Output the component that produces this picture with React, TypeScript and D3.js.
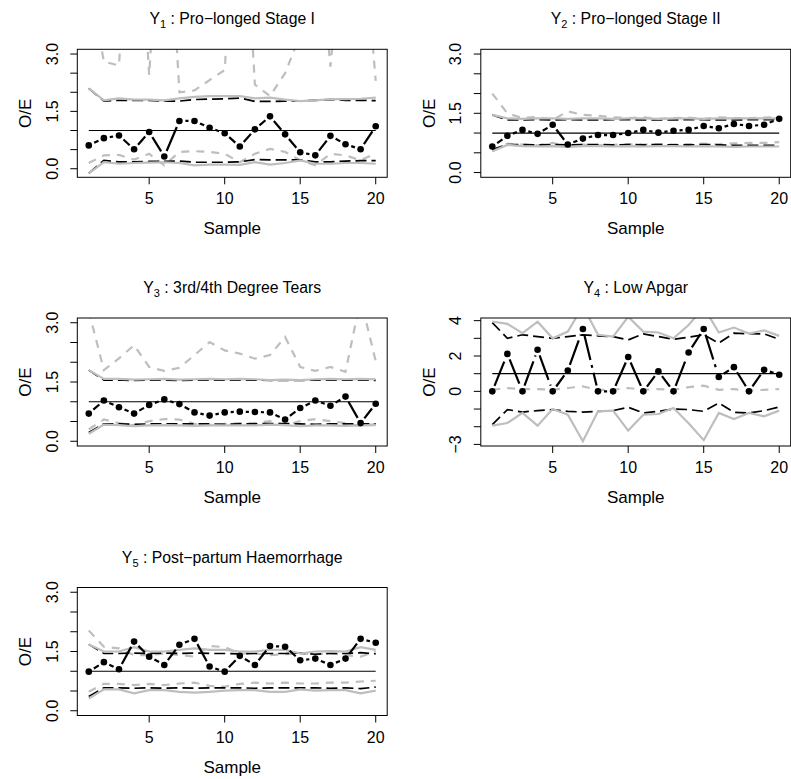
import React from "react";
import * as d3 from "d3";

const samples = [1, 2, 3, 4, 5, 6, 7, 8, 9, 10, 11, 12, 13, 14, 15, 16, 17, 18, 19, 20];
const xTicks = [5, 10, 15, 20];

// Panel 1 : Pro-longed Stage I
const obs1 = [0.61, 0.8, 0.87, 0.51, 0.96, 0.32, 1.25, 1.25, 1.07, 0.93, 0.58, 1.03, 1.37, 0.9, 0.43, 0.35, 0.86, 0.64, 0.51, 1.11];
const blackUp1 = [2.1, 1.77, 1.79, 1.79, 1.79, 1.77, 1.77, 1.81, 1.82, 1.83, 1.85, 1.76, 1.76, 1.77, 1.77, 1.79, 1.81, 1.79, 1.79, 1.78];
const blackLo1 = [-0.12, 0.22, 0.18, 0.18, 0.19, 0.19, 0.2, 0.17, 0.17, 0.17, 0.18, 0.24, 0.23, 0.23, 0.23, 0.18, 0.18, 0.2, 0.21, 0.21];
const greyUp1 = [2.1, 1.79, 1.84, 1.81, 1.81, 1.79, 1.84, 1.88, 1.9, 1.9, 1.9, 1.84, 1.86, 1.81, 1.77, 1.79, 1.82, 1.82, 1.83, 1.86];
const greyLo1 = [-0.12, 0.17, 0.13, 0.15, 0.16, 0.17, 0.15, 0.09, 0.11, 0.11, 0.1, 0.17, 0.11, 0.15, 0.22, 0.13, 0.13, 0.15, 0.15, 0.13];
const greyDashUp1 = [5, 2.8, 2.7, 9, 2.45, 9, 2.0, 2.05, 2.32, 2.58, 9, 2.2, 1.9, 2.5, 3.5, 7, 2.67, 7, 7, 2.3];
const greyDashLo1 = [0.15, 0.35, 0.36, 0.24, 0.39, 0.09, 0.44, 0.46, 0.44, 0.39, 0.17, 0.39, 0.52, 0.44, 0.22, 0.09, 0.39, 0.35, 0.22, 0.4];

// Panel 2 : Pro-longed Stage II
const obs2 = [0.66, 0.93, 1.08, 0.98, 1.21, 0.71, 0.86, 0.95, 0.95, 1.0, 1.08, 1.01, 1.06, 1.08, 1.18, 1.12, 1.23, 1.18, 1.21, 1.36];
const blackUp2 = [1.46, 1.33, 1.33, 1.34, 1.33, 1.34, 1.33, 1.33, 1.34, 1.34, 1.33, 1.33, 1.33, 1.34, 1.34, 1.33, 1.33, 1.34, 1.34, 1.34];
const blackLo2 = [0.58, 0.71, 0.71, 0.7, 0.71, 0.7, 0.71, 0.71, 0.7, 0.71, 0.7, 0.71, 0.7, 0.7, 0.71, 0.7, 0.69, 0.69, 0.69, 0.69];
const greyUp2 = [1.46, 1.37, 1.36, 1.37, 1.37, 1.36, 1.37, 1.37, 1.36, 1.37, 1.37, 1.36, 1.37, 1.37, 1.36, 1.37, 1.37, 1.37, 1.37, 1.37];
const greyLo2 = [0.54, 0.7, 0.67, 0.66, 0.67, 0.65, 0.67, 0.67, 0.66, 0.67, 0.66, 0.67, 0.67, 0.66, 0.67, 0.66, 0.65, 0.66, 0.66, 0.66];
const greyDashUp2 = [2.0, 1.5, 1.38, 1.41, 1.33, 1.55, 1.46, 1.44, 1.4, 1.38, 1.4, 1.36, 1.38, 1.39, 1.36, 1.4, 1.38, 1.38, 1.39, 1.41];
const greyDashLo2 = [0.54, 0.73, 0.71, 0.69, 0.75, 0.65, 0.71, 0.69, 0.7, 0.72, 0.71, 0.72, 0.71, 0.72, 0.73, 0.72, 0.74, 0.75, 0.75, 0.77];

// Panel 3 : 3rd/4th Degree Tears
const obs3 = [0.7, 1.03, 0.86, 0.7, 0.92, 1.06, 0.94, 0.73, 0.65, 0.73, 0.75, 0.74, 0.73, 0.55, 0.84, 1.03, 0.9, 1.13, 0.46, 0.95];
const blackUp3 = [1.8, 1.55, 1.55, 1.54, 1.55, 1.55, 1.54, 1.55, 1.55, 1.55, 1.55, 1.55, 1.54, 1.54, 1.54, 1.55, 1.55, 1.55, 1.55, 1.54];
const blackLo3 = [0.22, 0.44, 0.44, 0.43, 0.44, 0.44, 0.44, 0.44, 0.44, 0.43, 0.44, 0.44, 0.45, 0.45, 0.44, 0.43, 0.44, 0.44, 0.44, 0.44];
const greyUp3 = [1.8, 1.58, 1.58, 1.56, 1.57, 1.58, 1.56, 1.57, 1.58, 1.57, 1.58, 1.57, 1.55, 1.56, 1.55, 1.57, 1.58, 1.57, 1.58, 1.57];
const greyLo3 = [0.19, 0.42, 0.41, 0.38, 0.4, 0.41, 0.4, 0.39, 0.4, 0.4, 0.4, 0.4, 0.42, 0.41, 0.38, 0.4, 0.4, 0.39, 0.4, 0.41];
const greyDashUp3 = [3.3, 1.8, 2.1, 2.43, 1.88, 1.78, 1.86, 2.18, 2.51, 2.3, 2.22, 2.09, 2.18, 2.64, 1.88, 1.78, 1.88, 1.76, 3.6, 2.03];
const greyDashLo3 = [0.3, 0.55, 0.46, 0.4, 0.51, 0.56, 0.55, 0.44, 0.41, 0.44, 0.46, 0.46, 0.51, 0.41, 0.51, 0.56, 0.51, 0.46, 0.38, 0.44];

// Panel 4 : Low Apgar
const obs4 = [0, 2.12, 0, 2.35, 0, 1.18, 3.53, 0, 0, 1.94, 0, 1.13, 0, 2.2, 3.53, 0.81, 1.37, 0, 1.22, 0.94];
const blackUp4 = [3.89, 3.0, 3.2, 3.1, 3.0, 3.1, 3.2, 3.14, 3.1, 2.91, 3.25, 3.1, 2.95, 3.06, 3.2, 2.73, 3.29, 3.26, 3.25, 2.95];
const blackLo4 = [-1.88, -1.03, -1.17, -1.09, -1.03, -1.13, -1.17, -1.13, -1.09, -0.9, -1.22, -1.13, -1.0, -1.03, -1.13, -0.66, -1.18, -1.22, -1.09, -0.88];
const greyUp4 = [3.95, 3.82, 3.29, 3.94, 3.0, 3.38, 4.82, 3.2, 3.1, 4.22, 3.38, 3.33, 3.0, 3.75, 4.76, 3.33, 3.61, 3.27, 3.45, 3.14];
const greyLo4 = [-1.94, -1.79, -1.22, -1.94, -1.0, -1.32, -2.82, -1.13, -1.09, -2.22, -1.32, -1.28, -0.94, -1.8, -2.76, -1.22, -1.56, -1.22, -1.41, -1.09];
const greyDashLo4 = [0.09, 0.19, 0.13, 0.13, 0.09, 0.19, 0.28, 0.09, 0.09, 0.19, 0.09, 0.13, 0.09, 0.24, 0.32, 0.09, 0.13, 0.04, 0.09, 0.13];

// Panel 5 : Post-partum Haemorrhage
const obs5 = [0.99, 1.23, 1.05, 1.75, 1.37, 1.16, 1.67, 1.82, 1.12, 0.99, 1.39, 1.16, 1.64, 1.62, 1.28, 1.32, 1.16, 1.32, 1.82, 1.72];
const blackUp5 = [1.68, 1.45, 1.45, 1.46, 1.45, 1.46, 1.45, 1.46, 1.45, 1.45, 1.44, 1.45, 1.45, 1.45, 1.46, 1.43, 1.45, 1.45, 1.47, 1.44];
const blackLo5 = [0.36, 0.58, 0.58, 0.57, 0.58, 0.57, 0.58, 0.57, 0.58, 0.58, 0.58, 0.57, 0.58, 0.58, 0.58, 0.58, 0.57, 0.58, 0.56, 0.6];
const greyUp5 = [1.68, 1.5, 1.5, 1.61, 1.5, 1.5, 1.54, 1.58, 1.54, 1.54, 1.5, 1.5, 1.54, 1.54, 1.45, 1.5, 1.51, 1.5, 1.61, 1.54];
const greyLo5 = [0.31, 0.54, 0.54, 0.44, 0.52, 0.52, 0.48, 0.46, 0.48, 0.51, 0.52, 0.52, 0.48, 0.48, 0.54, 0.51, 0.52, 0.52, 0.44, 0.51];
const greyDashUp5 = [2.03, 1.62, 1.58, 1.41, 1.41, 1.45, 1.41, 1.37, 1.64, 1.61, 1.45, 1.45, 1.41, 1.43, 1.45, 1.43, 1.45, 1.41, 1.37, 1.5];
const greyDashLo5 = [0.48, 0.68, 0.68, 0.65, 0.68, 0.65, 0.69, 0.71, 0.63, 0.61, 0.68, 0.71, 0.69, 0.71, 0.69, 0.69, 0.71, 0.71, 0.74, 0.76];

const titles = ["Pro\u2212longed Stage I", "Pro\u2212longed Stage II", "3rd/4th Degree Tears", "Low Apgar", "Post\u2212partum Haemorrhage"];
const subs = ["1", "2", "3", "4", "5"];
const ticksStd = [0, 0.5, 1, 1.5, 2, 2.5, 3];
const labelsStd = [0, 1.5, 3];
const ticksApgar = [-3, -2, -1, 0, 1, 2, 3, 4];
const labelsApgar = [-3, 0, 2, 4];

const colLeft = [77.3, 480.8];
const rowTop = [49.3, 318, 587.5];
const boxW = 309.9;
const boxH = 128;

const GREY = "#bebebe";
const FONT = "'Liberation Sans', Arial, Helvetica, sans-serif";

type Panel = {
  id: number;
  col: number;
  row: number;
  yDomain: [number, number];
  yTicks: number[];
  yLabels: number[];
  obs: number[];
  blackUp: number[];
  blackLo: number[];
  greyUp: number[];
  greyLo: number[];
  greyDashUp: number[] | null;
  greyDashLo: number[];
};

const panels: Panel[] = [
  { id: 0, col: 0, row: 0, yDomain: [-0.224, 3.124], yTicks: ticksStd, yLabels: labelsStd, obs: obs1, blackUp: blackUp1, blackLo: blackLo1, greyUp: greyUp1, greyLo: greyLo1, greyDashUp: greyDashUp1, greyDashLo: greyDashLo1 },
  { id: 1, col: 1, row: 0, yDomain: [-0.12, 3.12], yTicks: ticksStd, yLabels: labelsStd, obs: obs2, blackUp: blackUp2, blackLo: blackLo2, greyUp: greyUp2, greyLo: greyLo2, greyDashUp: greyDashUp2, greyDashLo: greyDashLo2 },
  { id: 2, col: 0, row: 1, yDomain: [-0.12, 3.12], yTicks: ticksStd, yLabels: labelsStd, obs: obs3, blackUp: blackUp3, blackLo: blackLo3, greyUp: greyUp3, greyLo: greyLo3, greyDashUp: greyDashUp3, greyDashLo: greyDashLo3 },
  { id: 3, col: 1, row: 1, yDomain: [-3.09, 4.15], yTicks: ticksApgar, yLabels: labelsApgar, obs: obs4, blackUp: blackUp4, blackLo: blackLo4, greyUp: greyUp4, greyLo: greyLo4, greyDashUp: null, greyDashLo: greyDashLo4 },
  { id: 4, col: 0, row: 2, yDomain: [-0.12, 3.12], yTicks: ticksStd, yLabels: labelsStd, obs: obs5, blackUp: blackUp5, blackLo: blackLo5, greyUp: greyUp5, greyLo: greyLo5, greyDashUp: greyDashUp5, greyDashLo: greyDashLo5 },
];

function fmt(v: number, apgar: boolean) {
  if (apgar) return v < 0 ? "\u2212" + Math.abs(v) : String(v);
  return v.toFixed(1);
}

function PanelView({ p }: { p: Panel }) {
  const left = colLeft[p.col];
  const top = rowTop[p.row];
  const right = left + boxW;
  const bottom = top + boxH;
  const x = d3.scaleLinear().domain([0.24, 20.76]).range([left, right]);
  const y = d3.scaleLinear().domain(p.yDomain).range([bottom, top]);
  const line = d3.line<number>().x((_, i) => x(samples[i])).y((v) => y(v));
  const clipId = `clip${p.id}`;
  const apgar = p.id === 3;

  // type = "b" segments with gaps around the points
  const gap = 6;
  const segs: { x1: number; y1: number; x2: number; y2: number }[] = [];
  for (let i = 0; i < p.obs.length - 1; i++) {
    const ax = x(samples[i]), ay = y(p.obs[i]);
    const bx = x(samples[i + 1]), by = y(p.obs[i + 1]);
    const dx = bx - ax, dy = by - ay;
    const len = Math.sqrt(dx * dx + dy * dy);
    if (len > 2 * gap) {
      const ux = dx / len, uy = dy / len;
      segs.push({ x1: ax + ux * gap, y1: ay + uy * gap, x2: bx - ux * gap, y2: by - uy * gap });
    }
  }
  const cx = (left + right) / 2;
  const cy = (top + bottom) / 2;

  return (
    <g>
      <defs>
        <clipPath id={clipId}>
          <rect x={left} y={top} width={boxW} height={boxH} />
        </clipPath>
      </defs>
      <g clipPath={`url(#${clipId})`} fill="none">
        {p.greyDashUp && <path d={line(p.greyDashUp) || ""} stroke={GREY} strokeWidth={2.2} strokeDasharray="8,7" />}
        <path d={line(p.greyDashLo) || ""} stroke={GREY} strokeWidth={2.2} strokeDasharray="8,7" />
        <path d={line(p.blackUp) || ""} stroke="#000" strokeWidth={1.7} strokeDasharray="11,5" />
        <path d={line(p.blackLo) || ""} stroke="#000" strokeWidth={1.7} strokeDasharray="11,5" />
        <path d={line(p.greyUp) || ""} stroke={GREY} strokeWidth={2.2} />
        <path d={line(p.greyLo) || ""} stroke={GREY} strokeWidth={2.2} />
        <line x1={x(samples[0])} x2={x(samples[samples.length - 1])} y1={y(1)} y2={y(1)} stroke="#000" strokeWidth={1.2} />
        {segs.map((s, i) => (
          <line key={i} x1={s.x1} y1={s.y1} x2={s.x2} y2={s.y2} stroke="#000" strokeWidth={2.2} strokeDasharray="26,5,3,5" />
        ))}
        {p.obs.map((v, i) => (
          <circle key={i} cx={x(samples[i])} cy={y(v)} r={3.3} fill="#000" />
        ))}
      </g>
      <rect x={left} y={top} width={boxW} height={boxH} fill="none" stroke="#000" strokeWidth={1} />
      <g fontFamily={FONT} fontSize={16} fill="#000">
        {xTicks.map((t) => (
          <g key={t}>
            <line x1={x(t)} x2={x(t)} y1={bottom} y2={bottom + 7} stroke="#000" />
            <text x={x(t)} y={bottom + 27} textAnchor="middle">{t}</text>
          </g>
        ))}
        <text x={cx} y={bottom + 57} textAnchor="middle" fontSize={17}>Sample</text>
        {p.yTicks.map((t) => (
          <line key={t} x1={left - 7} x2={left} y1={y(t)} y2={y(t)} stroke="#000" />
        ))}
        {p.yLabels.map((t) => (
          <text key={t} transform={`translate(${left - 19.5},${y(t)}) rotate(-90)`} textAnchor="middle">{fmt(t, apgar)}</text>
        ))}
        <text transform={`translate(${left - 46},${cy}) rotate(-90)`} textAnchor="middle" fontSize={17}>O/E</text>
        <text x={cx} y={top - 25} textAnchor="middle" fontSize={15.8}>
          Y<tspan dy={4} fontSize={11}>{subs[p.id]}</tspan>
          <tspan dy={-4}>{" : " + titles[p.id]}</tspan>
        </text>
      </g>
    </g>
  );
}

export default function App() {
  return (
    <svg width={791} height={779} style={{ display: "block", position: "absolute", left: 0, top: 0, background: "#fff" }}>
      <rect x={0} y={0} width={791} height={779} fill="#fff" />
      {panels.map((p) => (
        <PanelView key={p.id} p={p} />
      ))}
    </svg>
  );
}
